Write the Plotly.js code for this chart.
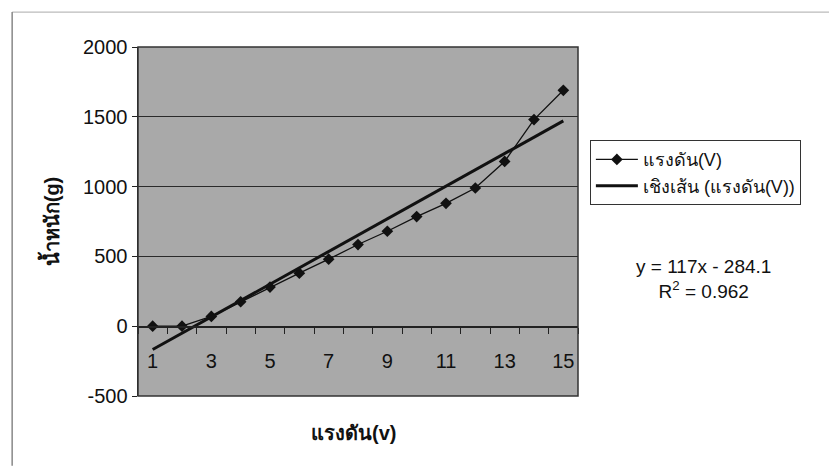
<!DOCTYPE html>
<html>
<head>
<meta charset="utf-8">
<script src="https://cdn.plot.ly/plotly-3.0.1.min.js"></script>
<style>html,body{margin:0;padding:0;background:#fff;}#chart{width:829px;height:467px;}</style>
</head>
<body>
<div id="chart"></div>
<script>
// Data
const voltage = [1,2,3,4,5,6,7,8,9,10,11,12,13,14,15];
const weight  = [0,0,70,175,280,380,480,585,680,785,880,990,1180,1480,1690];
const trendSlope = [117];
const trendIntercept = [-284.1];
const xTickVals = [1,3,5,7,9,11,13,15];
const yTickVals = [-500,0,500,1000,1500,2000];
const yTickText = ['-500','0','500','1000','1500','2000'];
const seriesName = 'แรงดัน(V)';
const trendName = 'เชิงเส้น (แรงดัน(V))';
const xTitle = 'แรงดัน(v)';
const yTitle = 'น้ำหนัก(g)';
const eqText = 'y = 117x - 284.1<br>R<sup>2</sup> = 0.962';

const trendX = [voltage[0], voltage[voltage.length-1]];
const trendY = trendX.map(x => trendSlope[0]*x + trendIntercept[0]);

const FONT = 'Arial, "Liberation Sans", "Noto Sans", sans-serif';

const traces = [
  {x: voltage, y: weight, type: 'scatter', mode: 'lines+markers', name: seriesName,
   line: {color: '#111', width: 1.3}, marker: {symbol: 'diamond', size: 9, color: '#111'}},
  {x: trendX, y: trendY, type: 'scatter', mode: 'lines', name: trendName,
   line: {color: '#111', width: 3}}
];

const layout = {
  width: 829, height: 467,
  margin: {l: 138, r: 251, t: 47, b: 71},
  paper_bgcolor: '#ffffff',
  plot_bgcolor: '#a9a9a9',
  font: {family: FONT, color: '#111', size: 19},
  showlegend: true,
  legend: {x: 1.027, y: 0.733, xanchor: 'left', yanchor: 'top',
    bgcolor: '#ffffff', bordercolor: '#333', borderwidth: 1,
    font: {size: 18, color: '#111'}, tracegroupgap: 0, itemwidth: 42},
  xaxis: {
    range: [0.5, 15.5], anchor: 'free', position: 0.2,
    tickmode: 'array', tickvals: xTickVals, ticks: '',
    ticklabelstandoff: 16,
    showgrid: false, zeroline: false, showline: true, linecolor: '#222', linewidth: 1.5,
    tickfont: {size: 20, color: '#111'},
    minor: {tickmode: 'linear', tick0: 0.5, dtick: 1, ticks: 'outside', ticklen: 6, tickcolor: '#222', showgrid: false}
  },
  yaxis: {
    range: [-500, 2000], tickmode: 'array', tickvals: yTickVals, ticktext: yTickText,
    ticks: 'outside', ticklen: 5, tickcolor: '#222',
    showgrid: true, gridcolor: '#2a2a2a', gridwidth: 1.3,
    zeroline: false, showline: true, linecolor: '#222', linewidth: 1.5,
    tickfont: {size: 20, color: '#111'},
    title: {text: yTitle, font: {size: 20, color: '#111', weight: 'bold'}, standoff: 18}
  },
  shapes: [
    {type: 'rect', xref: 'paper', yref: 'paper', x0: 0, x1: 1, y0: 0, y1: 1,
     line: {color: '#333', width: 1.5}},
    {type: 'line', xref: 'paper', yref: 'paper', x0: -0.286, x1: 1.6, y0: 1.1, y1: 1.1,
     line: {color: '#aaa', width: 1}},
    {type: 'line', xref: 'paper', yref: 'paper', x0: -0.286, x1: -0.286, y0: -0.2, y1: 1.1,
     line: {color: '#888', width: 1.5}}
  ],
  annotations: [
    {xref: 'paper', yref: 'paper', x: 1.285, y: 0.335, xanchor: 'center', yanchor: 'middle',
     text: eqText, showarrow: false, align: 'center', font: {size: 19, color: '#111'}},
    {xref: 'paper', yref: 'paper', x: 0.49, y: -0.105, xanchor: 'center', yanchor: 'middle',
     text: '<b>' + xTitle + '</b>', showarrow: false, font: {size: 20, color: '#111'}}
  ]
};

Plotly.newPlot('chart', traces, layout, {displayModeBar: false, staticPlot: true});
</script>
</body>
</html>
